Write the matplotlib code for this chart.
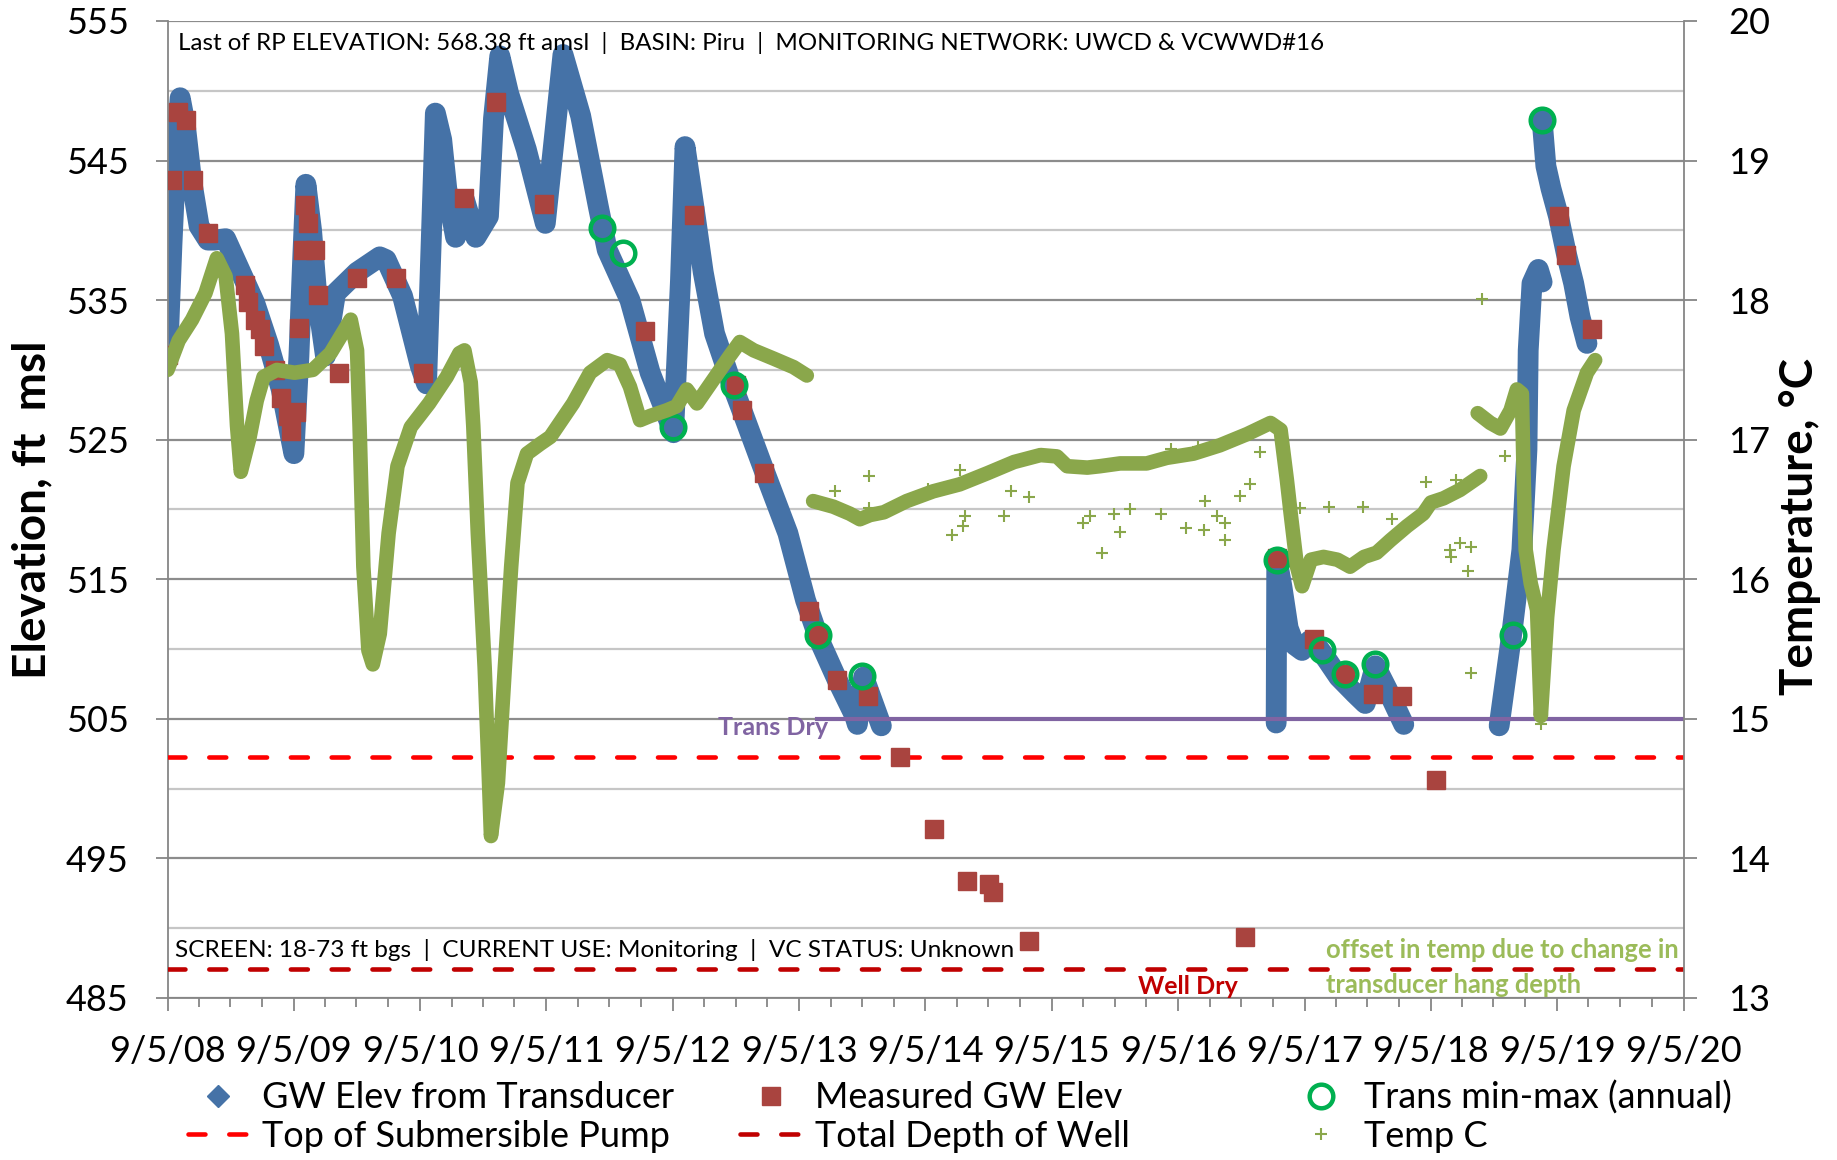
import numpy as np
import pandas as pd
import matplotlib
matplotlib.use("Agg")
import matplotlib.pyplot as plt
import matplotlib.dates as mdates
from matplotlib.lines import Line2D

plt.rcParams["font.family"] = ["Lato", "DejaVu Sans"]

# x values are years after the first reading
START = pd.Timestamp("2008-09-05")
X_END = pd.Timestamp("2020-09-05")

# GW elevation from transducer (ft msl), one list pair per unbroken run
gw1_yr = [0.00, 0.035, 0.07, 0.10, 0.14, 0.19, 0.25, 0.32, 0.37, 0.46, 0.58, 0.69, 0.80, 0.90,
          1.00, 1.04, 1.07, 1.095, 1.14, 1.18, 1.25, 1.33, 1.50, 1.68, 1.73, 1.86, 2.00, 2.05,
          2.09, 2.12, 2.17, 2.21, 2.28, 2.35, 2.44, 2.54, 2.58, 2.63, 2.70, 2.84, 2.99, 3.06,
          3.13, 3.27, 3.41, 3.48, 3.55, 3.66, 3.82, 3.95, 4.005, 4.06, 4.096, 4.166, 4.24, 4.33,
          4.45, 4.55, 4.73, 4.91, 5.05, 5.156, 5.30, 5.44, 5.46, 5.51, 5.65]
gw1_ft = [530.7, 539.0, 546.0, 549.5, 547.6, 543.6, 540.3, 539.3, 539.3, 539.4, 537.0, 534.8, 531.8, 528.6,
          524.0, 531.0, 538.0, 543.3, 540.0, 535.5, 531.0, 535.5, 537.0, 538.1, 537.9, 535.3, 530.3, 529.0,
          540.0, 548.4, 546.5, 543.0, 539.5, 542.2, 539.5, 541.0, 548.0, 552.5, 549.8, 545.8, 540.5, 546.5,
          552.6, 548.2, 541.7, 538.6, 537.2, 535.0, 529.8, 526.8, 525.5, 536.4, 546.0, 541.7, 537.0, 532.6,
          529.4, 527.0, 522.6, 518.3, 513.5, 510.7, 507.8, 505.2, 504.6, 508.0, 504.5]
gw2_yr = [8.775, 8.78, 8.82, 8.87, 8.92, 8.98, 9.04, 9.10, 9.18, 9.27, 9.40, 9.48, 9.56, 9.655, 9.785]
gw2_ft = [504.7, 516.5, 514.5, 511.5, 510.3, 509.9, 510.6, 510.2, 509.2, 508.0, 506.8, 506.1, 508.8, 507.1, 504.6]
gw3_yr = [10.54, 10.64, 10.72, 10.76, 10.77, 10.80, 10.85, 10.88]
gw3_ft = [504.5, 511.1, 517.1, 524.3, 531.4, 536.2, 537.2, 536.3]
gw4_yr = [10.88, 10.91, 10.95, 11.01, 11.07, 11.13, 11.18, 11.235]
gw4_ft = [547.9, 544.6, 543.0, 541.0, 538.4, 536.2, 533.8, 531.9]

# hand measurements
meas_yr = [0.00, 0.035, 0.08, 0.15, 0.20, 0.32, 0.61, 0.64, 0.69, 0.73, 0.76, 0.85, 0.90, 0.955,
           0.98, 1.02, 1.04, 1.07, 1.088, 1.11, 1.17, 1.19, 1.36, 1.50, 1.81, 2.02, 2.35, 2.60,
           2.98, 3.78, 4.17, 4.50, 4.545, 4.725, 5.075, 5.146, 5.30, 5.545, 5.80, 6.065, 6.33,
           6.50, 6.53, 6.82, 8.53, 8.78, 9.076, 9.32, 9.54, 9.77, 10.04, 11.01, 11.07, 11.275]
meas_ft = [531.1, 543.6, 548.5, 547.9, 543.6, 539.8, 536.1, 534.9, 533.6, 532.9, 531.7, 530.0, 528.0, 526.7,
           525.6, 527.0, 533.0, 538.6, 541.8, 540.5, 538.6, 535.4, 529.8, 536.6, 536.6, 529.8, 542.3, 549.2,
           541.9, 532.8, 541.1, 528.9, 527.1, 522.6, 512.7, 511.0, 507.8, 506.6, 502.3, 497.1, 493.4,
           493.2, 492.6, 489.05, 489.4, 516.5, 510.7, 508.2, 506.8, 506.6, 500.6, 541.0, 538.2, 532.9]

# annual transducer min / max
minmax_yr = [3.44, 3.605, 4.00, 4.48, 5.146, 5.50, 8.78, 9.14, 9.32, 9.56, 10.65, 10.88]
minmax_ft = [540.2, 538.4, 525.9, 528.9, 511.0, 508.1, 516.4, 509.9, 508.2, 508.9, 511.0, 547.9]

# transducer temperature (deg C)
temp1_yr = [0.00, 0.088, 0.194, 0.30, 0.39, 0.46, 0.51, 0.55, 0.58, 0.65, 0.706, 0.76, 0.865, 1.006,
            1.15, 1.29, 1.45, 1.50, 1.52, 1.55, 1.59, 1.625, 1.68, 1.75, 1.82, 1.925, 2.07, 2.21,
            2.31, 2.35, 2.40, 2.42, 2.456, 2.51, 2.54, 2.56, 2.615, 2.67, 2.72, 2.77, 2.845, 2.95,
            3.03, 3.21, 3.345, 3.48, 3.58, 3.66, 3.74, 3.82, 3.95, 4.03, 4.11, 4.19, 4.32, 4.45,
            4.53, 4.64, 4.80, 4.955, 5.06]
temp1_c = [17.50, 17.71, 17.86, 18.05, 18.30, 18.17, 17.76, 17.10, 16.77, 17.02, 17.28, 17.45, 17.50, 17.48,
           17.50, 17.62, 17.86, 17.64, 17.10, 16.09, 15.49, 15.39, 15.61, 16.33, 16.81, 17.09, 17.26, 17.45,
           17.62, 17.64, 17.41, 17.10, 16.33, 15.37, 14.66, 14.16, 14.54, 15.37, 16.09, 16.69, 16.90, 16.97,
           17.02, 17.26, 17.48, 17.57, 17.54, 17.38, 17.14, 17.17, 17.21, 17.24, 17.36, 17.26, 17.43, 17.60,
           17.70, 17.64, 17.58, 17.52, 17.46]
temp2_yr = [5.11, 5.27, 5.40, 5.48, 5.56, 5.67, 5.85, 6.06, 6.27, 6.49, 6.70, 6.91, 7.04, 7.12,
            7.28, 7.38, 7.54, 7.75, 7.91, 8.12, 8.33, 8.545, 8.73, 8.81, 8.86, 8.89, 8.94, 8.98,
            9.05, 9.15, 9.26, 9.36, 9.47, 9.57, 9.68, 9.81, 9.94, 10.00, 10.10, 10.23, 10.39]
temp2_c = [16.56, 16.52, 16.47, 16.43, 16.46, 16.48, 16.56, 16.63, 16.68, 16.76, 16.84, 16.89, 16.88, 16.81,
           16.80, 16.81, 16.83, 16.83, 16.87, 16.90, 16.96, 17.04, 17.12, 17.07, 16.71, 16.47, 16.09, 15.95,
           16.14, 16.16, 16.14, 16.09, 16.16, 16.19, 16.28, 16.38, 16.47, 16.55, 16.58, 16.64, 16.74]
temp3_yr = [10.37, 10.47, 10.55, 10.63, 10.68, 10.72, 10.735, 10.75, 10.79, 10.84, 10.87, 10.92,
            10.97, 11.05, 11.13, 11.235, 11.30]
temp3_c = [17.19, 17.12, 17.08, 17.21, 17.36, 17.33, 16.69, 16.21, 15.97, 15.78, 15.02, 15.73,
           16.21, 16.81, 17.21, 17.48, 17.57]
temp_odd_yr = [5.285, 5.555, 5.555, 6.02, 6.21, 6.27, 6.30, 6.31, 6.62, 6.68, 6.82, 7.25, 7.30, 7.40,
               7.49, 7.54, 7.62, 7.86, 7.94, 8.06, 8.16, 8.20, 8.21, 8.31, 8.37, 8.37, 8.49, 8.57,
               8.65, 8.96, 9.19, 9.46, 9.69, 9.96, 10.20, 10.15, 10.16, 10.23, 10.32, 10.29, 10.32,
               10.59, 10.405, 10.87]
temp_odd_c = [16.63, 16.74, 16.51, 16.65, 16.32, 16.78, 16.38, 16.45, 16.45, 16.63, 16.59, 16.40, 16.45, 16.19,
              16.47, 16.34, 16.50, 16.47, 16.93, 16.37, 16.95, 16.35, 16.56, 16.45, 16.40, 16.28, 16.60, 16.68,
              16.91, 16.51, 16.52, 16.52, 16.43, 16.70, 16.71, 16.21, 16.16, 16.26, 16.23, 16.06, 15.33,
              16.88, 18.01, 14.96]

pump_top_ft = 502.3
well_bottom_ft = 487.1
trans_dry_ft = 505.0
trans_dry_from_yr = 5.14

year_ticks = pd.date_range(START, X_END, freq=pd.DateOffset(years=1))
quarter_ticks = pd.date_range(START, X_END, freq=pd.DateOffset(months=3))


def to_dates(yrs):
    return START + pd.to_timedelta(np.asarray(yrs, dtype=float) * 365.25, unit="D")


blue = "#4572A7"
red_sq = "#A9443F"
ring = "#00B050"
temp_green = "#8AA74B"

fig = plt.figure(figsize=(18.37, 11.6), dpi=100)
ax = fig.add_axes([0.0912, 0.1397, 0.8253, 0.8422])
ax2 = ax.twinx()

for yr, ft in ((gw1_yr, gw1_ft), (gw2_yr, gw2_ft), (gw3_yr, gw3_ft), (gw4_yr, gw4_ft)):
    ax.plot(to_dates(yr), ft, color=blue, lw=15, solid_capstyle="round",
            solid_joinstyle="round", zorder=2)

ax.axhline(pump_top_ft, color="#FF0000", lw=3.3, ls=(0, (3.7, 5.2)),
           dash_capstyle="round", zorder=3)
ax.axhline(well_bottom_ft, color="#C00000", lw=3.3, ls=(0, (3.7, 5.2)),
           dash_capstyle="round", zorder=3)
ax.plot(to_dates([trans_dry_from_yr]).append(pd.DatetimeIndex([X_END])),
        [trans_dry_ft, trans_dry_ft], color="#8064A2", lw=3, zorder=5)

ax.plot(to_dates(meas_yr), meas_ft, ls="none", marker="s", ms=13.5, color=red_sq, zorder=4)
ax.plot(to_dates(minmax_yr), minmax_ft, ls="none", marker="o", ms=17, mfc="none",
        mec=ring, mew=3.2, zorder=6)

for yr, c in ((temp1_yr, temp1_c), (temp2_yr, temp2_c), (temp3_yr, temp3_c)):
    ax2.plot(to_dates(yr), c, color=temp_green, lw=10.5, solid_capstyle="round",
             solid_joinstyle="round")
ax2.plot(to_dates(temp_odd_yr), temp_odd_c, ls="none", marker="+", ms=8, mew=1.5, color=temp_green)

# axes
ax.set_xlim(START, X_END)
ax.set_ylim(485, 555)
ax2.set_ylim(13, 20)
ax.set_xticks(mdates.date2num(year_ticks))
ax.set_xticklabels([f"{d.month}/{d.day}/{d:%y}" for d in year_ticks])
ax.set_xticks(mdates.date2num(quarter_ticks), minor=True)
ax.set_yticks(np.arange(485, 556, 10))
ax.set_yticks(np.arange(490, 551, 10), minor=True)
ax2.set_yticks(np.arange(13, 21, 1))

ax.set_axisbelow(True)
ax.grid(axis="y", which="major", color="#8C8C8C", lw=1.6)
ax.grid(axis="y", which="minor", color="#C6C6C6", lw=1.6)

for a in (ax, ax2):
    a.spines["top"].set_visible(False)
    for s in a.spines.values():
        s.set_color("#868686")
        s.set_linewidth(1.3)
ax.spines["right"].set_visible(False)
ax2.spines["left"].set_visible(False)
ax2.spines["bottom"].set_visible(False)

ax.tick_params(axis="y", which="major", length=9, width=1.3, color="#868686", labelsize=26, pad=19)
ax.tick_params(axis="y", which="minor", length=0)
ax.tick_params(axis="x", which="major", length=9, width=1.3, color="#868686", labelsize=26, pad=18)
ax.tick_params(axis="x", which="minor", length=6.5, width=1.3, color="#868686")
ax2.tick_params(axis="y", length=9, width=1.3, color="#868686", labelsize=26, pad=23)

fig.text(0.0175, 0.5603, "Elevation, ft  msl", rotation=90, ha="center", va="center",
         fontsize=33, fontweight="bold")
fig.text(0.98, 0.5457, "Temperature, \u00b0C", rotation=90, ha="center", va="center",
         fontsize=33, fontweight="bold")

ax.text(0.0067, 0.970,
        "Last of RP ELEVATION: 568.38 ft amsl  |  BASIN: Piru  |  MONITORING NETWORK: UWCD & VCWWD#16",
        transform=ax.transAxes, fontsize=17.4, va="baseline", ha="left")
ax.text(0.005, 0.042, "SCREEN: 18-73 ft bgs  |  CURRENT USE: Monitoring  |  VC STATUS: Unknown",
        transform=ax.transAxes, fontsize=17.6, va="baseline", ha="left")
ax.text(to_dates([5.23])[0], 503.85, "Trans Dry", color="#8064A2", fontsize=18,
        fontweight="bold", ha="right", va="baseline")
ax.text(to_dates([8.08])[0], 485.25, "Well Dry", color="#C00000", fontsize=18,
        fontweight="bold", ha="center", va="baseline")
ax.text(0.764, 0.0405, "offset in temp due to change in", transform=ax.transAxes,
        color="#9BBB59", fontsize=18.4, fontweight="bold", ha="left", va="baseline")
ax.text(0.764, 0.0054, "transducer hang depth", transform=ax.transAxes,
        color="#9BBB59", fontsize=18.4, fontweight="bold", ha="left", va="baseline")

# legend: three equal-width columns under the plot
h_gw = Line2D([], [], ls="none", marker="D", ms=11, color=blue)
h_meas = Line2D([], [], ls="none", marker="s", ms=13.5, color=red_sq)
h_mm = Line2D([], [], ls="none", marker="o", ms=17, mfc="none", mec=ring, mew=3.2)
h_pump = Line2D([], [], color="#FF0000", lw=3.3, ls=(0, (3.7, 5.2)), dash_capstyle="round")
h_well = Line2D([], [], color="#C00000", lw=3.3, ls=(0, (3.7, 5.2)), dash_capstyle="round")
h_temp = Line2D([], [], ls="none", marker="+", ms=9, mew=1.5, color=temp_green)

leg_kw = dict(frameon=False, fontsize=26, handlelength=1.7, handletextpad=0.35,
              labelspacing=0.15, borderpad=0, borderaxespad=0, loc="center left")
columns = [([h_gw, h_pump], ["GW Elev from Transducer", "Top of Submersible Pump"], 0.1021),
           ([h_meas, h_well], ["Measured GW Elev", "Total Depth of Well"], 0.4031),
           ([h_mm, h_temp], ["Trans min-max (annual)", "Temp C"], 0.7022)]
for handles, labels, x in columns:
    fig.legend(handles, labels, bbox_to_anchor=(x, 0.0372), **leg_kw)

fig.savefig("out.png", dpi=100)
